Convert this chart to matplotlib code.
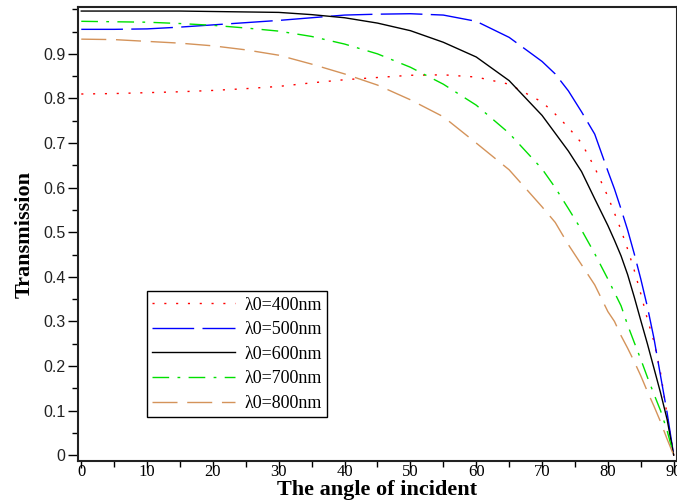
import numpy as np
import matplotlib
matplotlib.use('Agg')
import matplotlib.pyplot as plt
from matplotlib.ticker import MultipleLocator

# angle of incidence (degrees)
angles = [0, 5, 10, 15, 20, 25, 30, 35, 40, 45, 50, 55, 60, 65, 70, 72, 74, 76,
          78, 80, 81, 82, 83, 84, 85, 86, 87, 88, 89, 90]

t400 = [0.810, 0.811, 0.813, 0.815, 0.818, 0.822, 0.827, 0.835, 0.842, 0.847,
        0.852, 0.853, 0.848, 0.832, 0.792, 0.765, 0.735, 0.700, 0.645, 0.580,
        0.543, 0.505, 0.462, 0.415, 0.362, 0.305, 0.255, 0.185, 0.090, 0.0]
t500 = [0.955, 0.955, 0.956, 0.960, 0.965, 0.970, 0.975, 0.981, 0.987, 0.989,
        0.990, 0.987, 0.973, 0.937, 0.883, 0.855, 0.817, 0.770, 0.720, 0.637,
        0.597, 0.552, 0.505, 0.452, 0.395, 0.333, 0.262, 0.178, 0.095, 0.0]
t600 = [0.996, 0.996, 0.996, 0.996, 0.995, 0.994, 0.993, 0.988, 0.981, 0.969,
        0.952, 0.926, 0.893, 0.840, 0.762, 0.722, 0.682, 0.636, 0.575, 0.515,
        0.482, 0.447, 0.405, 0.355, 0.302, 0.250, 0.195, 0.140, 0.080, 0.0]
t700 = [0.973, 0.972, 0.971, 0.968, 0.964, 0.958, 0.951, 0.939, 0.922, 0.900,
        0.870, 0.832, 0.785, 0.722, 0.642, 0.600, 0.553, 0.505, 0.452, 0.395,
        0.365, 0.335, 0.292, 0.253, 0.215, 0.175, 0.137, 0.100, 0.055, 0.0]
t800 = [0.933, 0.932, 0.928, 0.924, 0.918, 0.909, 0.897, 0.877, 0.855, 0.830,
        0.797, 0.759, 0.700, 0.640, 0.557, 0.522, 0.472, 0.427, 0.382, 0.322,
        0.300, 0.268, 0.240, 0.210, 0.178, 0.143, 0.110, 0.075, 0.036, 0.0]

labels = ['λ0=400nm', 'λ0=500nm', 'λ0=600nm', 'λ0=700nm', 'λ0=800nm']
colors = ['#ff0000', '#0000ff', '#000000', '#00e000', '#d4935a']
dashes = [(1.5, 7), (30, 6), (), (12, 6, 2, 6), (18, 7)]

fig = plt.figure(figsize=(6.77, 5.03), dpi=100)
ax = fig.add_axes([0.1152, 0.0835, 0.8848, 0.9025])

for y, lab, c, d in zip([t400, t500, t600, t700, t800], labels, colors, dashes):
    if d:
        ax.plot(angles, y, color=c, lw=1.0, dashes=d, label=lab)
    else:
        ax.plot(angles, y, color=c, lw=1.0, label=lab)

ax.set_xlim(-0.5, 90.5)
ax.set_ylim(-0.013, 1.005)
ax.xaxis.set_major_locator(MultipleLocator(10))
ax.xaxis.set_minor_locator(MultipleLocator(5))
ax.yaxis.set_minor_locator(MultipleLocator(0.05))
ax.set_yticks(np.arange(0, 0.95, 0.1))
ax.set_yticklabels(['0'] + [f'{v:.1f}' for v in np.arange(0.1, 0.95, 0.1)])

ax.tick_params(axis='y', which='major', length=7, width=1, direction='out', pad=2)
ax.tick_params(axis='y', which='minor', length=4, width=1, direction='out')
ax.tick_params(axis='x', which='major', length=5, width=1, direction='out', pad=-3)
ax.tick_params(axis='x', which='minor', length=4, width=1, direction='out')
for lbl in ax.get_yticklabels():
    lbl.set_fontfamily('Liberation Sans')
    lbl.set_fontsize(11.5)
    lbl.set_color('#222222')
for lbl in ax.get_xticklabels():
    lbl.set_fontfamily('Liberation Serif')
    lbl.set_fontsize(12)

for s in ax.spines.values():
    s.set_linewidth(1.5)
    s.set_color('#222222')

ax.set_xlabel('The angle of incident', fontsize=16, fontweight='bold',
              family='Liberation Serif', labelpad=0)
ax.set_ylabel('Transmission', fontsize=16, fontweight='bold',
              family='Liberation Serif', labelpad=6)

leg = ax.legend(loc='upper left', bbox_to_anchor=(0.115, 0.374), borderaxespad=0,
                prop={'family': 'Liberation Serif', 'size': 13}, handlelength=4.6,
                fancybox=False, framealpha=1, edgecolor='black',
                labelspacing=0.42, borderpad=0.3, handletextpad=0.5)
leg.get_frame().set_linewidth(1.0)

fig.savefig('out.png', dpi=100, facecolor='white')
